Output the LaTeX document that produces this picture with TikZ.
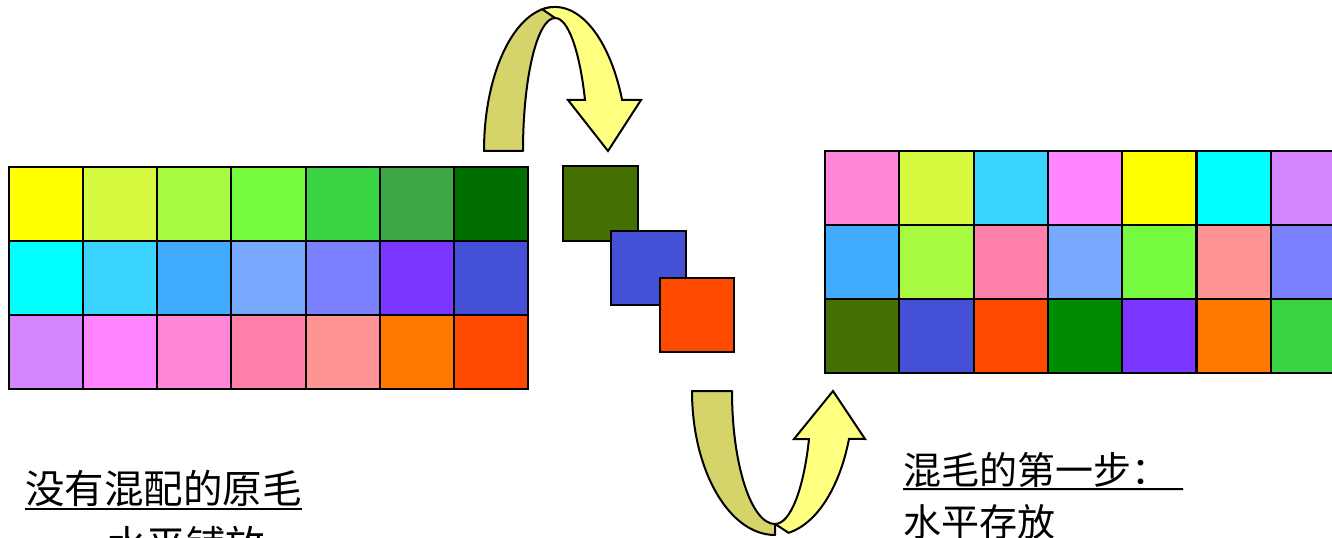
\documentclass[tikz,border=0pt]{standalone}
\usepackage{fontspec}
\newfontfamily\cjk{Noto Sans CJK SC}
\definecolor{cA}{HTML}{FFFF00}
\definecolor{cB}{HTML}{D6FA40}
\definecolor{cC}{HTML}{A8FA40}
\definecolor{cD}{HTML}{75FA40}
\definecolor{cE}{HTML}{3AD342}
\definecolor{cF}{HTML}{3EA645}
\definecolor{cG}{HTML}{006F00}
\definecolor{cH}{HTML}{00FFFF}
\definecolor{cI}{HTML}{3BD3FF}
\definecolor{cJ}{HTML}{40ABFF}
\definecolor{cK}{HTML}{77A9FF}
\definecolor{cL}{HTML}{7B80FF}
\definecolor{cM}{HTML}{7A37FF}
\definecolor{cN}{HTML}{4450D6}
\definecolor{cO}{HTML}{D485FF}
\definecolor{cP}{HTML}{FF86FF}
\definecolor{cQ}{HTML}{FF86D8}
\definecolor{cR}{HTML}{FF80A8}
\definecolor{cS}{HTML}{FF9494}
\definecolor{cT}{HTML}{FF7800}
\definecolor{cU}{HTML}{FF4A00}
\definecolor{cV}{HTML}{437000}
\definecolor{cW}{HTML}{008C00}
\definecolor{ribdark}{HTML}{D4D46A}
\definecolor{riblight}{HTML}{FFFF80}
\begin{document}
\begin{tikzpicture}[x=0.75pt,y=0.75pt,
  cell/.style={draw=black,line width=1.5pt,minimum width=55.6pt,minimum height=55.6pt,inner sep=0pt,outer sep=0pt},
  ribbonA/.style={fill=ribdark,draw=black,line width=1.5pt,line join=round},
  ribbonB/.style={fill=riblight,draw=black,line width=1.5pt,line join=miter},
  label/.style={font=\cjk\fontsize{28.5pt}{34pt}\selectfont,anchor=base west,inner sep=0pt},
  biglabel/.style={font=\cjk\fontsize{29.6pt}{35pt}\selectfont,anchor=base west,inner sep=0pt},
  uline/.style={line width=1.5pt}]
\useasboundingbox (0,0) rectangle (1332,-538);
\clip (0,0) rectangle (1332,-538);
% left grid
\foreach \c [count=\i from 0] in {cA,cB,cC,cD,cE,cF,cG}
  \node[cell,fill=\c] (La\i) at ({9+74.14*(\i+0.5)},-204) {};
\foreach \c [count=\i from 0] in {cH,cI,cJ,cK,cL,cM,cN}
  \node[cell,fill=\c] (Lb\i) at ({9+74.14*(\i+0.5)},-278) {};
\foreach \c [count=\i from 0] in {cO,cP,cQ,cR,cS,cT,cU}
  \node[cell,fill=\c] (Lc\i) at ({9+74.14*(\i+0.5)},-352) {};
% right grid
\foreach \c [count=\i from 0] in {cQ,cB,cI,cP,cA,cH,cO}
  \node[cell,fill=\c] (Ra\i) at ({825+74.3*(\i+0.5)},-188) {};
\foreach \c [count=\i from 0] in {cJ,cC,cR,cK,cD,cS,cL}
  \node[cell,fill=\c] (Rb\i) at ({825+74.3*(\i+0.5)},-262) {};
\foreach \c [count=\i from 0] in {cV,cN,cU,cW,cM,cT,cE}
  \node[cell,fill=\c] (Rc\i) at ({825+74.3*(\i+0.5)},-336) {};
% middle squares
\node[cell,fill=cV] (m1) at (600.5,-203.5) {};
\node[cell,fill=cN] (m2) at (648.5,-268) {};
\node[cell,fill=cU] (m3) at (697,-315) {};
% top U-turn arrow
\filldraw[ribbonA] (484,-151) arc[start angle=180,end angle=90,x radius=71,y radius=144]
  -- (555,-18) arc[start angle=90,end angle=180,x radius=32,y radius=133] -- cycle;
\filldraw[ribbonB] (542.3,-9.3) arc[start angle=100,end angle=23.1,x radius=73,y radius=153]
  -- (641,-100) -- (608,-151) -- (568,-100) -- (585,-100)
  arc[start angle=25,end angle=90,x radius=33,y radius=142]
  .. controls (549,-13) .. cycle;
% bottom U-turn arrow
\filldraw[ribbonA] (692,-391) arc[start angle=180,end angle=270,x radius=83,y radius=144]
  -- (775,-524) arc[start angle=270,end angle=180,x radius=43,y radius=133] -- cycle;
\filldraw[ribbonB] (788.6,-532.8) arc[start angle=280,end angle=340.53,x radius=78.5,y radius=144]
  -- (865,-439) -- (833,-391) -- (794,-439) -- (809,-439)
  arc[start angle=338.84,end angle=270,x radius=36.4,y radius=133]
  -- cycle;
% texts
\node[biglabel] (t1) at (25,-503) {没有混配的原毛};
\draw[uline] ([yshift=-4.5pt]t1.base west) -- ([yshift=-4.5pt]t1.base east);
\node[biglabel] (t2) at (107,-559) {水平铺放};
\node[label] (t3) at (903,-484.5) {混毛的第一步：};
\coordinate (t3end) at (1183,-489);
\draw[uline] ([yshift=-3.4pt]t3.base west) -- (t3end);
\node[label] (t4) at (903,-536.5) {水平存放};
\end{tikzpicture}
\end{document}
